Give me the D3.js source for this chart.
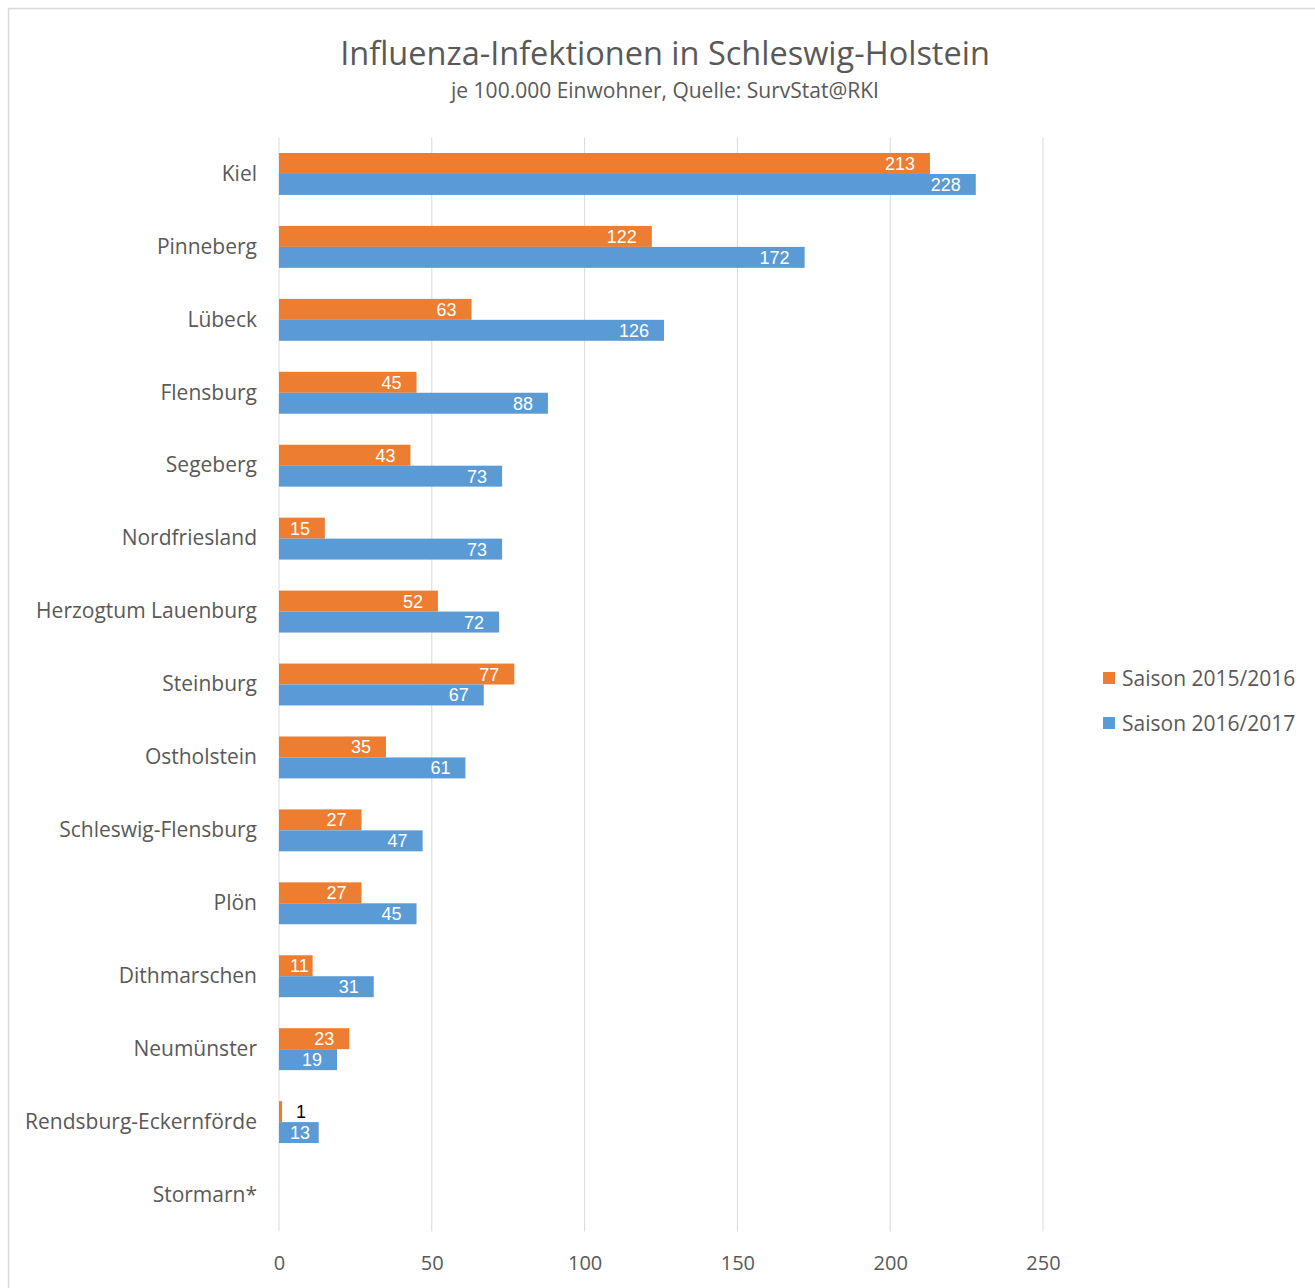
<!DOCTYPE html>
<html>
<head>
<meta charset="utf-8">
<script src="https://cdn.jsdelivr.net/npm/d3@7"></script>
<style>
  body { margin: 0; background: #fff; }
  svg text { font-family: "Open Sans", sans-serif; }
</style>
</head>
<body>
<div id="chart"></div>
<script>
const districts = [
  "Kiel", "Pinneberg", "Lübeck", "Flensburg", "Segeberg", "Nordfriesland",
  "Herzogtum Lauenburg", "Steinburg", "Ostholstein", "Schleswig-Flensburg",
  "Plön", "Dithmarschen", "Neumünster", "Rendsburg-Eckernförde", "Stormarn*"
];
const season1516 = [213, 122, 63, 45, 43, 15, 52, 77, 35, 27, 27, 11, 23, 1, null];
const season1617 = [228, 172, 126, 88, 73, 73, 72, 67, 61, 47, 45, 31, 19, 13, null];
const seriesNames = ["Saison 2015/2016", "Saison 2016/2017"];
const seriesColors = ["#ED7D31", "#5B9BD5"];
const xTicks = [0, 50, 100, 150, 200, 250];

const width = 1315, height = 1288;
const margin = { top: 137.5, left: 279, plotRight: 1043, bottom: 1231.5 };

const svg = d3.select("#chart").append("svg")
  .attr("width", width)
  .attr("height", height);

// Rahmen
svg.append("rect")
  .attr("x", 8.5).attr("y", 8.5)
  .attr("width", width + 20).attr("height", height + 20)
  .attr("fill", "none")
  .attr("stroke", "#d9d9d9")
  .attr("stroke-width", 1.5);

// Titel
svg.append("text")
  .attr("x", 665).attr("y", 65)
  .attr("text-anchor", "middle")
  .attr("font-size", 32.5)
  .attr("fill", "#595959")
  .text("Influenza-Infektionen in Schleswig-Holstein");
svg.append("text")
  .attr("x", 665).attr("y", 98)
  .attr("text-anchor", "middle")
  .attr("font-size", 21)
  .attr("fill", "#595959")
  .text("je 100.000 Einwohner, Quelle: SurvStat@RKI");

const x = d3.scaleLinear().domain([0, 250]).range([margin.left, margin.plotRight]);
const y = d3.scaleBand().domain(districts).range([margin.top, margin.bottom]);
const inner = d3.scaleBand().domain([0, 1])
  .range([0, y.bandwidth()])
  .paddingInner(0)
  .paddingOuter(0.74);

// Gitterlinien
svg.append("g")
  .selectAll("line")
  .data(xTicks)
  .join("line")
  .attr("x1", d => x(d)).attr("x2", d => x(d))
  .attr("y1", margin.top).attr("y2", margin.bottom)
  .attr("stroke", "#d9d9d9")
  .attr("stroke-width", 1);

// X-Achse
const xAxis = svg.append("g")
  .attr("transform", `translate(0,${margin.bottom})`)
  .call(d3.axisBottom(x).tickValues(xTicks).tickSize(0).tickPadding(24));
xAxis.select(".domain").remove();
xAxis.selectAll("text")
  .attr("font-size", 20)
  .attr("fill", "#595959")
  .attr("font-family", "Open Sans, sans-serif");

// Y-Achse
const yAxis = svg.append("g")
  .attr("transform", `translate(${margin.left - 22},0)`)
  .call(d3.axisLeft(y).tickSize(0).tickPadding(0));
yAxis.select(".domain").remove();
yAxis.selectAll("text")
  .attr("font-size", 21)
  .attr("fill", "#595959")
  .attr("font-family", "Open Sans, sans-serif");

const series = [season1516, season1617];

series.forEach((values, si) => {
  const rows = districts.map((d, i) => ({ name: d, value: values[i] }))
    .filter(d => d.value != null);

  const g = svg.append("g");
  g.selectAll("rect")
    .data(rows)
    .join("rect")
    .attr("x", x(0))
    .attr("y", d => y(d.name) + inner(si))
    .attr("width", d => x(d.value) - x(0))
    .attr("height", inner.bandwidth())
    .attr("fill", seriesColors[si]);

  // Werte: Liberation Sans hat eine flache Zeilenhöhe, passt in den Balken
  g.selectAll("text")
    .data(rows)
    .join("text")
    .attr("y", d => y(d.name) + inner(si) + inner.bandwidth() / 2)
    .attr("dy", "0.36em")
    .attr("font-size", 18)
    .style("font-family", "'Liberation Sans', Arial, sans-serif")
    .text(d => d.value)
    .each(function (d) {
      const barW = x(d.value) - x(0);
      const t = d3.select(this);
      const textW = this.getComputedTextLength();
      if (barW < 20) {
        // zu schmal: Beschriftung außerhalb
        t.attr("x", x(d.value) + 19).attr("text-anchor", "middle")
          .attr("fill", "#000");
      } else {
        const endX = Math.max(x(d.value) - 15, x(0) + textW + 11);
        t.attr("x", endX).attr("text-anchor", "end").attr("fill", "#fff");
      }
    });
});

// Legende
const legend = svg.append("g").attr("transform", "translate(1103,678)");
seriesNames.forEach((name, i) => {
  const row = legend.append("g").attr("transform", `translate(0,${i * 45})`);
  row.append("rect")
    .attr("x", 0).attr("y", -6)
    .attr("width", 12).attr("height", 12)
    .attr("fill", seriesColors[i]);
  row.append("text")
    .attr("x", 19).attr("y", 0)
    .attr("dy", "0.36em")
    .attr("font-size", 21)
    .attr("fill", "#595959")
    .text(name);
});
</script>
</body>
</html>
